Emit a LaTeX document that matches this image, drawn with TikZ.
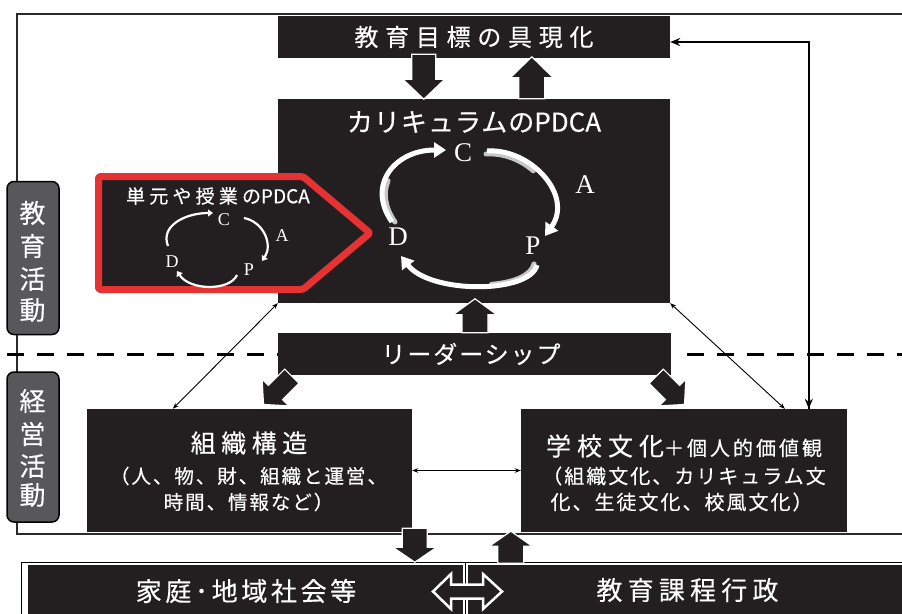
\documentclass[tikz,border=0pt]{standalone}
\usepackage{fontspec}
\setmainfont{Liberation Serif}
\newfontfamily\jp{Noto Sans CJK JP}[FakeBold=0.35]
\usetikzlibrary{arrows.meta,calc}
\definecolor{bk}{HTML}{231F20}
\definecolor{rd}{HTML}{E53333}
\definecolor{sidegray}{HTML}{58585A}
\definecolor{framec}{HTML}{2A2A2A}
\newcommand{\jpf}[2]{\jp\fontsize{#1}{#1}\selectfont\addfontfeatures{LetterSpace=#2}}
\newcommand{\blockarr}[6]{%
  \filldraw[fill=bk, draw=white, line width=1.2pt, line join=miter, shift={#1}, rotate=#2]
  (0,-#4) -- ({#3-#6},-#4) -- ({#3-#6},-#5) -- (#3,0) -- ({#3-#6},#5) -- ({#3-#6},#4) -- (0,#4) -- cycle;}
\begin{document}
\begin{tikzpicture}[x=1pt,y=-1pt,
  blackbox/.style={fill=bk, draw=none, inner sep=0pt, rectangle},
  sidebox/.style={fill=sidegray, draw=black, line width=1.5pt, rounded corners=7pt, inner sep=0pt},
  wtext/.style={text=white, inner sep=0pt, anchor=center},
  sidechar/.style={text=white, inner sep=0pt, font=\jpf{26}{0}},
  bigl/.style={text=white, inner sep=0pt, font=\fontsize{27}{27}\selectfont},
  smalll/.style={text=white, inner sep=0pt, font=\fontsize{18}{18}\selectfont},
  thinarr/.style={line width=0.9pt, {Stealth[length=6pt,width=4.5pt]}-{Stealth[length=6pt,width=4.5pt]}},
  bigcyc/.style={white, line width=5pt, -{Triangle[width=15pt,length=12pt]}},
  bigshade/.style={gray!45, line width=5pt, line cap=round},
  smallcyc/.style={white, line width=2.2pt, -{Triangle[width=7pt,length=5pt]}}]
\useasboundingbox (0,0) rectangle (902,613);
\clip (0,0) rectangle (902,613);

% outer frame and dashed separator
\draw[framec, line width=1.5pt] (903,14) -- (17,14) -- (17,534) -- (903,534);
\draw[black, line width=3pt, dash pattern=on 17pt off 13pt] (7,354) -- (278,354);
\draw[black, line width=3pt, dash pattern=on 17pt off 13pt] (687,354) -- (903,354);

% side labels
\node[sidebox, minimum width=52pt, minimum height=153pt] (edu) at (33,258) {};
\node[sidebox, minimum width=52pt, minimum height=150pt] (mgmt) at (33,447) {};
\node[sidechar] (e1) at (32.5,213) {教};
\node[sidechar] (e2) at (32.5,246) {育};
\node[sidechar] (e3) at (32.5,279) {活};
\node[sidechar] (e4) at (32.5,310) {動};
\node[sidechar] (m1) at (32.5,401) {経};
\node[sidechar] (m2) at (32.5,434) {営};
\node[sidechar] (m3) at (32.5,466) {活};
\node[sidechar] (m4) at (32.5,495) {動};

% main boxes
\node[blackbox, minimum width=392pt, minimum height=42pt] (title) at (474,37) {};
\node[blackbox, minimum width=392pt, minimum height=204pt] (cur) at (474,201) {};
\node[blackbox, minimum width=393pt, minimum height=42pt] (lead) at (474.5,354) {};
\node[blackbox, minimum width=325pt, minimum height=123pt] (org) at (249.5,470.5) {};
\node[blackbox, minimum width=326pt, minimum height=123pt] (sch) at (684,470.5) {};

% bottom boxes
\draw[black, line width=1pt] (21,625) -- (21,562) -- (910,562);
\node[blackbox, minimum width=435pt, minimum height=60pt] (home) at (245.5,595) {};
\node[blackbox, minimum width=440pt, minimum height=60pt] (admin) at (688,595) {};
\draw[black, line width=1pt] (465.5,562) -- (465.5,620);

% red unit PDCA pentagon
\draw[rd, line width=7pt, fill=bk, rounded corners=2pt, line join=round]
  (98.5,176.5) -- (303,176.5) -- (370,233) -- (303,289.5) -- (98.5,289.5) -- cycle;

% block arrows
\blockarr{($(title.south west)+(146,-4)$)}{-90}{45}{12}{21}{20}
\blockarr{($(cur.north west)+(254,0)$)}{90}{42}{13}{21.5}{21}
\blockarr{($(lead.north)+(0.5,0)$)}{90}{34}{13}{22}{16}
\blockarr{($(lead.south west)+(14,1)$)}{-135}{40}{10}{19}{17}
\blockarr{($(lead.south east)+(-15,1)$)}{-45}{40}{10}{19}{17}
\blockarr{($(org.south west)+(328,-4)$)}{-90}{34}{12.5}{22}{15}
\blockarr{($(sch.south west)+(-10,31)$)}{90}{32}{13}{21.5}{15}

% double arrow between bottom boxes
\filldraw[fill=bk, draw=white, line width=2.5pt, line join=miter]
  (433,591.5) -- (451,574) -- (451,584.5) -- (483,584.5) -- (483,574) -- (502,591.5)
  -- (483,609) -- (483,598.5) -- (451,598.5) -- (451,609) -- cycle;

% thin connectors
\draw[thinarr] (cur.south west) -- ($(org.north west)+(86,0)$);
\draw[thinarr] (cur.south east) -- ($(sch.north west)+(264,0)$);
\draw[thinarr] (org.east) -- (sch.west);
\draw[line width=2pt, -{Stealth[length=10pt,width=8pt]}] ($(sch.north west)+(288,0)$) |- ($(title.east)+(0,5)$);
\draw[line width=2pt, -{Stealth[length=10pt,width=8pt]}] ($(sch.north west)+(288,-60)$) -- ($(sch.north west)+(288,0)$);

% big PDCA cycle (gray ribbon shading on the inner side of each tail)
\draw[bigshade] (395,222) .. controls (384.6,207.2) and (383,192.7) .. (388.1,180.7);
\draw[bigshade] (486,154) .. controls (503.2,152.8) and (520.6,159.6) .. (533.3,170.8);
\draw[bigshade] (534,264) .. controls (531.2,275.6) and (513.5,282.6) .. (491.5,284.3);
\draw[bigcyc] (392,222) .. controls (366,185) and (395,150) .. (446,150);
\draw[bigcyc] (487,151) .. controls (530,148) and (574,195) .. (545,236);
\draw[bigcyc] (537,265) .. controls (530,294) and (430,294) .. (401,256);
\node[bigl] (bC) at (463,153) {C};
\node[bigl] (bA) at (585,185) {A};
\node[bigl] (bP) at (533,246) {P};
\node[bigl] (bD) at (398,237) {D};

% small PDCA cycle
\draw[smallcyc] (168,246) .. controls (160,226) and (185,213) .. (213,213);
\draw[smallcyc] (244,218) .. controls (264,222) and (273,245) .. (262,261);
\draw[smallcyc] (237,275) .. controls (230,291) and (190,291) .. (177,271);
\node[smalll] (sC) at (224,220) {C};
\node[smalll] (sA) at (282,236) {A};
\node[smalll] (sP) at (249,270) {P};
\node[smalll] (sD) at (172,262) {D};

% texts
\node[wtext, font=\jpf{24}{28}] (tt) at (474,37) {教育目標の具現化};
\node[wtext] (ct) at (474,122) {{\jpf{26}{4}カリキュラムの}{\jpf{26}{0}PDCA}};
\node[wtext] (ut) at (218,196) {{\jpf{19}{22}単元や授業の}{\jpf{19}{0}PDCA}};
\node[wtext, font=\jpf{24}{8}] (lt) at (471,354) {リーダーシップ};
\node[wtext, font=\jpf{25}{22}] (ot1) at (249,443) {組織構造};
\node[wtext, font=\jpf{19.5}{10}] (ot2) at (248.5,476) {（人、物、財、組織と運営、};
\node[wtext, font=\jpf{19.5}{10}] (ot3) at (248.5,502) {時間、情報など）};
\node[wtext] (st1) at (684,446) {{\jpf{25}{24}学校文化}{\jpf{20}{15}＋個人的価値観}};
\node[wtext, font=\jpf{20}{10}] (st2) at (684,476) {（組織文化、カリキュラム文};
\node[wtext, font=\jpf{20}{10}] (st3) at (681.5,502) {化、生徒文化、校風文化）};
\node[wtext, font=\jpf{26}{14}] (ht) at (246,591) {家庭･地域社会等};
\node[wtext, font=\jpf{26}{20}] (at) at (687.5,590) {教育課程行政};
\end{tikzpicture}
\end{document}
